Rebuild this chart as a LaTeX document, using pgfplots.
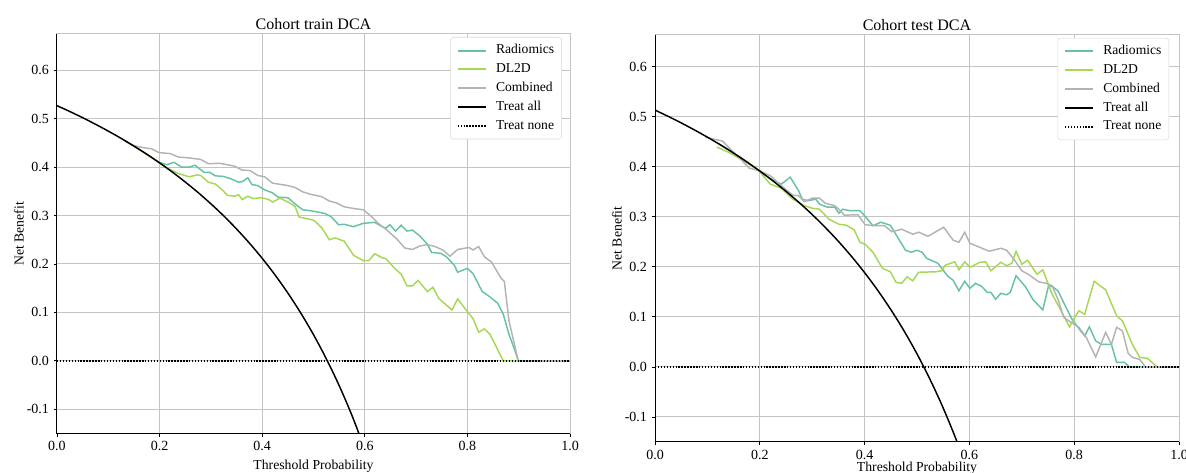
\documentclass[border=0pt]{standalone}
\usepackage{fontspec}
\setmainfont{Liberation Serif}
\usepackage{pgfplots}
\pgfplotsset{compat=1.18}

\definecolor{radcol}{HTML}{66C2A5}
\definecolor{dlcol}{HTML}{A6D854}
\definecolor{combcol}{HTML}{B3B3B3}
\definecolor{gridcol}{HTML}{C4C4C4}

\pgfplotsset{
  dca/.style={
    scale only axis,
    xmin=0, xmax=1, ymin=-0.15,
    xtick={0,0.2,0.4,0.6,0.8,1.0},
    ytick={-0.1,0,0.1,0.2,0.3,0.4,0.5,0.6},
    grid=major,
    major grid style={gridcol, line width=0.75pt},
    axis line style={draw=gridcol, line width=0.75pt},
    tick align=outside, xtick pos=bottom, ytick pos=left,
    major tick length=2.5pt,
    tick style={black, line width=0.6pt},
    /pgf/number format/assume math mode=true,
    xticklabel style={font=\fontsize{10.5}{12}\selectfont,
      /pgf/number format/.cd, fixed, fixed zerofill, precision=1},
    yticklabel style={font=\fontsize{10.5}{12}\selectfont,
      /pgf/number format/.cd, fixed, fixed zerofill, precision=1},
    every axis title shift=0pt,
    title style={font=\fontsize{12}{14}\selectfont, at={(0.5,1)}, anchor=base, yshift=3.6pt},
    xlabel style={font=\fontsize{10.3}{12}\selectfont, at={(0.5,0)}, anchor=base},
    ylabel style={font=\fontsize{10.3}{12}\selectfont, yshift=-4.5pt},
    xlabel={Threshold Probability},
    ylabel={Net Benefit},
    legend style={font=\fontsize{10.2}{12}\selectfont, draw=black!15,
      rounded corners=2pt, fill=white,
      anchor=north east, row sep=2.6pt, column sep=6pt,
      inner xsep=4.5pt, inner ysep=4.2pt,
      nodes={inner sep=1pt, text height=7.3pt, text depth=2.2pt},
      cells={anchor=west}},
    legend image code/.code={\draw[#1, line width=1.5pt] (0pt,0pt) -- (21pt,0pt);},
    every axis plot/.append style={line width=1.1pt},
    after end axis/.code={\draw[black, line width=0.75pt]
      (rel axis cs:0,1) -- (rel axis cs:0,0) -- (rel axis cs:1,0);},
  }
}

\begin{document}
\begin{tikzpicture}
\path[use as bounding box] (0,0) rectangle (889.5pt,-354.75pt);

% ---------------- train ----------------
\begin{axis}[dca,
  at={(42.75pt,-25.5pt)}, anchor=north west,
  width=384.75pt, height=299.6pt, ymax=0.675,
  title={Cohort train DCA},
  xlabel style={yshift=-27pt},
  legend style={at={(0.984,0.9925)}}]
\addplot[radcol] coordinates {
(0.13,0.456)(0.15,0.4435)(0.17,0.430)(0.19,0.416)(0.199,0.410)(0.214,0.405)
(0.228,0.410)(0.243,0.400)(0.258,0.400)(0.269,0.404)(0.287,0.389)(0.298,0.389)
(0.309,0.382)(0.324,0.381)(0.339,0.376)(0.354,0.369)(0.361,0.370)(0.372,0.378)
(0.380,0.364)(0.391,0.362)(0.405,0.353)(0.420,0.347)(0.431,0.338)(0.450,0.337)
(0.464,0.324)(0.479,0.312)(0.494,0.310)(0.505,0.308)(0.523,0.304)(0.534,0.298)
(0.549,0.281)(0.560,0.282)(0.578,0.277)(0.597,0.284)(0.619,0.286)(0.634,0.277)
(0.641,0.274)(0.649,0.281)(0.660,0.268)(0.671,0.280)(0.682,0.268)(0.693,0.270)
(0.707,0.258)(0.722,0.241)(0.730,0.224)(0.748,0.222)(0.759,0.215)(0.774,0.198)
(0.781,0.183)(0.800,0.191)(0.811,0.180)(0.829,0.143)(0.844,0.132)(0.859,0.119)
(0.870,0.096)(0.881,0.055)(0.895,0.014)(0.899,0)(1.0,0)};
\addlegendentry{Radiomics}
\addplot[dlcol] coordinates {
(0.13,0.456)(0.15,0.4435)(0.17,0.430)(0.19,0.416)(0.21,0.401)(0.217,0.397)
(0.236,0.387)(0.258,0.380)(0.273,0.384)(0.280,0.383)(0.295,0.369)(0.309,0.365)
(0.324,0.351)(0.332,0.342)(0.346,0.340)(0.354,0.343)(0.361,0.333)(0.372,0.340)
(0.383,0.335)(0.398,0.337)(0.413,0.333)(0.420,0.328)(0.435,0.336)(0.450,0.328)
(0.464,0.319)(0.472,0.297)(0.486,0.294)(0.501,0.290)(0.516,0.275)(0.531,0.250)
(0.542,0.254)(0.560,0.247)(0.578,0.218)(0.597,0.207)(0.608,0.207)(0.619,0.221)
(0.634,0.213)(0.641,0.211)(0.660,0.189)(0.671,0.179)(0.682,0.155)(0.693,0.155)
(0.704,0.166)(0.722,0.143)(0.733,0.152)(0.744,0.129)(0.770,0.105)(0.781,0.128)
(0.796,0.107)(0.811,0.087)(0.822,0.059)(0.833,0.066)(0.844,0.055)(0.870,0)(1.0,0)};
\addlegendentry{DL2D}
\addplot[combcol] coordinates {
(0.133,0.454)(0.147,0.445)(0.170,0.440)(0.184,0.438)(0.199,0.430)(0.221,0.428)
(0.236,0.421)(0.258,0.419)(0.280,0.416)(0.295,0.407)(0.317,0.408)(0.332,0.405)
(0.346,0.402)(0.361,0.394)(0.376,0.393)(0.391,0.383)(0.405,0.380)(0.420,0.367)
(0.450,0.362)(0.464,0.358)(0.479,0.349)(0.494,0.344)(0.516,0.339)(0.531,0.330)
(0.545,0.326)(0.560,0.318)(0.582,0.314)(0.597,0.312)(0.612,0.299)(0.626,0.284)
(0.641,0.272)(0.663,0.251)(0.678,0.233)(0.693,0.230)(0.707,0.237)(0.722,0.240)
(0.737,0.236)(0.752,0.229)(0.766,0.216)(0.781,0.230)(0.803,0.234)(0.811,0.229)
(0.822,0.236)(0.833,0.215)(0.847,0.204)(0.866,0.170)(0.872,0.164)(0.881,0.083)
(0.899,0)(1.0,0)};
\addlegendentry{Combined}
\addplot[black, smooth] coordinates {
(0,0.527)(0.025,0.5149)(0.05,0.5021)(0.075,0.4886)(0.1,0.4744)(0.125,0.4594)
(0.15,0.4435)(0.175,0.4267)(0.2,0.4088)(0.225,0.3897)(0.25,0.3693)(0.275,0.3476)
(0.3,0.3243)(0.325,0.2993)(0.35,0.2723)(0.375,0.2432)(0.4,0.2117)(0.425,0.1774)
(0.45,0.1400)(0.475,0.0990)(0.5,0.0540)(0.525,0.0042)(0.55,-0.0511)(0.575,-0.1129)
(0.6,-0.1825)};
\addlegendentry{Treat all}
\addplot[black, dash pattern=on 1.1pt off 1.1pt] coordinates {(0,0)(1,0)};
\addlegendentry{Treat none}
\end{axis}

% ---------------- test ----------------
\begin{axis}[dca,
  at={(491.25pt,-26.25pt)}, anchor=north west,
  width=393pt, height=305.25pt, ymax=0.663,
  title={Cohort test DCA},
  xlabel style={yshift=-22.5pt},
  legend style={at={(0.981,0.993)}}]
\addplot[radcol] coordinates {
(0.12,0.447)(0.14,0.434)(0.16,0.420)(0.18,0.406)(0.198,0.392)(0.220,0.376)
(0.241,0.365)(0.258,0.379)(0.274,0.352)(0.281,0.335)(0.292,0.332)(0.307,0.335)
(0.314,0.325)(0.329,0.319)(0.343,0.319)(0.351,0.307)(0.358,0.315)(0.372,0.312)
(0.391,0.312)(0.401,0.301)(0.416,0.282)(0.431,0.289)(0.449,0.283)(0.463,0.259)
(0.478,0.233)(0.489,0.229)(0.500,0.233)(0.510,0.229)(0.518,0.217)(0.540,0.207)
(0.558,0.182)(0.569,0.173)(0.580,0.152)(0.591,0.171)(0.601,0.157)(0.612,0.167)
(0.623,0.161)(0.634,0.149)(0.641,0.149)(0.650,0.135)(0.660,0.147)(0.671,0.144)
(0.678,0.149)(0.689,0.182)(0.707,0.160)(0.721,0.135)(0.740,0.114)(0.751,0.162)
(0.759,0.160)(0.769,0.152)(0.783,0.122)(0.796,0.095)(0.810,0.075)(0.820,0.062)
(0.829,0.080)(0.841,0.052)(0.852,0.045)(0.871,0.045)(0.881,0.009)(0.896,0.009)
(0.905,0)(1.0,0)};
\addlegendentry{Radiomics}
\addplot[dlcol] coordinates {
(0.118,0.439)(0.140,0.429)(0.169,0.412)(0.198,0.392)(0.220,0.365)(0.241,0.357)
(0.263,0.335)(0.285,0.322)(0.300,0.317)(0.314,0.315)(0.332,0.295)(0.351,0.285)
(0.365,0.283)(0.380,0.274)(0.391,0.249)(0.401,0.245)(0.416,0.229)(0.434,0.197)
(0.449,0.190)(0.460,0.169)(0.471,0.167)(0.481,0.180)(0.492,0.172)(0.503,0.189)
(0.536,0.190)(0.547,0.192)(0.554,0.203)(0.572,0.210)(0.580,0.194)(0.591,0.210)
(0.601,0.199)(0.620,0.209)(0.631,0.210)(0.641,0.192)(0.660,0.209)(0.671,0.202)
(0.681,0.207)(0.689,0.231)(0.700,0.205)(0.711,0.213)(0.729,0.185)(0.740,0.194)
(0.758,0.145)(0.776,0.110)(0.791,0.080)(0.801,0.099)(0.809,0.112)(0.820,0.105)
(0.838,0.171)(0.860,0.154)(0.881,0.102)(0.892,0.092)(0.911,0.045)(0.925,0.019)
(0.940,0.017)(0.958,0)(1.0,0)};
\addlegendentry{DL2D}
\addplot[combcol] coordinates {
(0.096,0.459)(0.129,0.451)(0.147,0.432)(0.165,0.413)(0.180,0.397)(0.198,0.392)
(0.220,0.382)(0.241,0.362)(0.263,0.343)(0.274,0.342)(0.285,0.330)(0.300,0.337)
(0.314,0.337)(0.325,0.327)(0.343,0.322)(0.354,0.312)(0.361,0.303)(0.387,0.304)
(0.401,0.284)(0.420,0.282)(0.438,0.282)(0.452,0.270)(0.471,0.275)(0.492,0.265)
(0.503,0.269)(0.521,0.261)(0.551,0.279)(0.569,0.253)(0.580,0.249)(0.591,0.269)
(0.601,0.247)(0.638,0.231)(0.660,0.237)(0.671,0.233)(0.685,0.215)(0.700,0.192)
(0.714,0.184)(0.732,0.170)(0.747,0.167)(0.758,0.162)(0.769,0.135)(0.780,0.099)
(0.794,0.089)(0.809,0.079)(0.823,0.059)(0.841,0.020)(0.860,0.069)(0.871,0.045)
(0.881,0.079)(0.892,0.072)(0.903,0.027)(0.911,0.019)(0.925,0.015)(0.936,0)(1.0,0)};
\addlegendentry{Combined}
\addplot[black, smooth] coordinates {
(0,0.513)(0.025,0.5005)(0.05,0.4874)(0.075,0.4735)(0.1,0.4589)(0.125,0.4434)
(0.15,0.4271)(0.175,0.4097)(0.2,0.3913)(0.225,0.3716)(0.25,0.3507)(0.275,0.3283)
(0.3,0.3043)(0.325,0.2785)(0.35,0.2508)(0.375,0.2208)(0.4,0.1883)(0.425,0.1530)
(0.45,0.1145)(0.475,0.0724)(0.5,0.0260)(0.525,-0.0253)(0.55,-0.0822)(0.575,-0.1459)
(0.6,-0.2175)};
\addlegendentry{Treat all}
\addplot[black, dash pattern=on 1.1pt off 1.1pt] coordinates {(0,0)(1,0)};
\addlegendentry{Treat none}
\end{axis}
\end{tikzpicture}
\end{document}
